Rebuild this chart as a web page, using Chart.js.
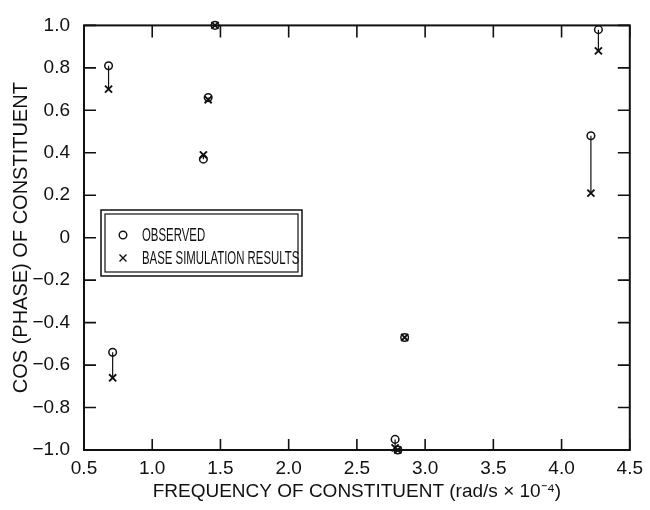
<!DOCTYPE html>
<html>
<head>
<meta charset="utf-8">
<script src="https://cdn.jsdelivr.net/npm/chart.js@4.4.1/dist/chart.umd.min.js"></script>
<style>
  html, body { margin: 0; padding: 0; background: #ffffff; }
  #wrap { width: 650px; height: 510px; position: relative; }
</style>
</head>
<body>
<div id="wrap"><canvas id="c" width="650" height="510"></canvas></div>
<script>
// ---- data ----
const frequency   = [0.68, 0.71, 1.375, 1.41, 1.46, 2.78, 2.80, 2.85, 4.215, 4.27];   // rad/s x 1e-4
const observedCos = [0.81, -0.54, 0.37, 0.66, 1.00, -0.95, -1.00, -0.47, 0.48, 0.98];
const simulatedCos= [0.70, -0.66, 0.39, 0.65, 1.00, -0.99, -1.00, -0.47, 0.21, 0.88];
const xTicks = [0.5, 1.0, 1.5, 2.0, 2.5, 3.0, 3.5, 4.0, 4.5];
const yTicks = [-1.0, -0.8, -0.6, -0.4, -0.2, 0, 0.2, 0.4, 0.6, 0.8, 1.0];
const seriesNames = ['OBSERVED', 'BASE SIMULATION RESULTS'];
const xTitle = 'FREQUENCY OF CONSTITUENT (rad/s \u00D7 10\u207B\u2074)';
const yTitle = 'COS (PHASE) OF CONSTITUENT';

const FONT = "'Liberation Sans', Arial, Helvetica, sans-serif";
const INK = '#111111';

const obsPts = frequency.map((f, i) => ({ x: f, y: observedCos[i] }));
const simPts = frequency.map((f, i) => ({ x: f, y: simulatedCos[i] }));
const linkPts = [];
frequency.forEach((f, i) => {
  linkPts.push({ x: f, y: observedCos[i] });
  linkPts.push({ x: f, y: simulatedCos[i] });
  linkPts.push({ x: f, y: null });
});

function fmtY(v) {
  if (Math.abs(v) < 1e-9) return '0';
  return (v < 0 ? '\u2212' : '') + Math.abs(v).toFixed(1);
}

const frame = {
  id: 'frame',
  beforeDatasetsDraw(chart) {
    const { ctx, chartArea: a, scales } = chart;
    ctx.save();
    ctx.strokeStyle = INK;
    ctx.lineWidth = 1.6;
    ctx.beginPath();
    // inward tick marks on all four sides
    scales.x.ticks.forEach(t => {
      const px = scales.x.getPixelForValue(t.value);
      ctx.moveTo(px, a.bottom); ctx.lineTo(px, a.bottom - 11);
      ctx.moveTo(px, a.top); ctx.lineTo(px, a.top + 12);
    });
    scales.y.ticks.forEach(t => {
      const py = scales.y.getPixelForValue(t.value);
      ctx.moveTo(a.left, py); ctx.lineTo(a.left + 12, py);
      ctx.moveTo(a.right, py); ctx.lineTo(a.right - 12, py);
    });
    ctx.stroke();
    ctx.lineWidth = 2;
    ctx.strokeRect(a.left, a.top, a.right - a.left, a.bottom - a.top);

    // legend with double border
    const L = 101, T = 210, W = 201, H = 66;
    ctx.lineWidth = 1.5;
    ctx.strokeRect(L, T, W, H);
    ctx.lineWidth = 1.2;
    ctx.strokeRect(L + 4, T + 4, W - 8, H - 8);
    ctx.fillStyle = INK;
    const rows = [T + 25, T + 48];
    ctx.lineWidth = 1.4;
    ctx.beginPath(); ctx.arc(L + 22, rows[0], 3.8, 0, Math.PI * 2); ctx.stroke();
    ctx.beginPath();
    ctx.moveTo(L + 18.5, rows[1] - 3.5); ctx.lineTo(L + 25.5, rows[1] + 3.5);
    ctx.moveTo(L + 25.5, rows[1] - 3.5); ctx.lineTo(L + 18.5, rows[1] + 3.5);
    ctx.stroke();
    // condensed lettering, like the narrow face of the original
    ctx.font = "19px " + FONT;
    ctx.textBaseline = 'middle';
    ctx.textAlign = 'left';
    [0, 1].forEach(k => {
      ctx.save();
      ctx.translate(L + 41, rows[k] + 1);
      ctx.scale(0.6, 1.0);
      ctx.fillText(chart.data.datasets[k].label, 0, 0);
      ctx.restore();
    });
    ctx.restore();
  }
};

new Chart(document.getElementById('c'), {
  type: 'scatter',
  data: {
    datasets: [
      {
        label: seriesNames[0], data: obsPts, clip: false,
        pointStyle: 'circle', pointRadius: 3.8, borderColor: INK, borderWidth: 1.5,
        backgroundColor: 'rgba(0,0,0,0)', order: 1
      },
      {
        label: seriesNames[1], data: simPts, clip: false,
        pointStyle: 'crossRot', pointRadius: 5, borderColor: INK, borderWidth: 1.9,
        backgroundColor: INK, order: 2
      },
      {
        label: 'link', data: linkPts, showLine: true, spanGaps: false, clip: false,
        pointRadius: 0, borderColor: INK, borderWidth: 1.2, order: 3
      }
    ]
  },
  options: {
    responsive: false,
    animation: false,
    devicePixelRatio: 1,
    layout: { padding: { top: 17, right: 18, left: 0, bottom: 0 } },
    plugins: { legend: { display: false }, tooltip: { enabled: false } },
    scales: {
      x: {
        type: 'linear', min: 0.5, max: 4.5,
        afterBuildTicks(s) { s.ticks = xTicks.map(v => ({ value: v })); },
        afterFit(s) { s.height = 60; },
        grid: { display: false, drawTicks: false },
        border: { display: false },
        ticks: { color: INK, padding: 7, font: { family: FONT, size: 19 },
                 maxRotation: 0, autoSkip: false, callback: v => v.toFixed(1) },
        title: { display: true, text: xTitle, color: INK,
                 font: { family: FONT, size: 19 }, padding: { top: 0, bottom: 7 } }
      },
      y: {
        type: 'linear', min: -1, max: 1,
        afterBuildTicks(s) { s.ticks = yTicks.map(v => ({ value: v })); },
        afterFit(s) { s.width = 84; },
        grid: { display: false, drawTicks: false },
        border: { display: false },
        ticks: { color: INK, padding: 14, font: { family: FONT, size: 19 },
                 autoSkip: false, callback: v => fmtY(v) },
        title: { display: true, text: yTitle, color: INK,
                 font: { family: FONT, size: 20 }, padding: { top: 9, bottom: 0 } }
      }
    }
  },
  plugins: [frame]
});
</script>
</body>
</html>
